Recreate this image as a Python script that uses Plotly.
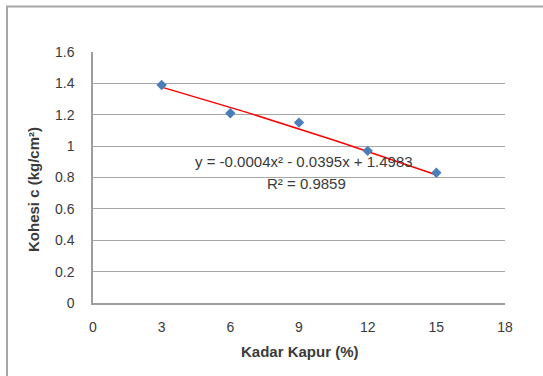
import numpy as np
import plotly.graph_objects as go

# Data
kadar_kapur = [3, 6, 9, 12, 15]
kohesi = [1.39, 1.21, 1.15, 0.97, 0.83]
trend_coef = [-0.0004, -0.0395, 1.4983]  # quadratic trendline shown on chart
x_ticks = [0, 3, 6, 9, 12, 15, 18]
y_ticks = [0, 0.2, 0.4, 0.6, 0.8, 1.0, 1.2, 1.4, 1.6]
eq_text = "y = -0.0004x² - 0.0395x + 1.4983"
r2_text = "R² = 0.9859"
x_title = "Kadar Kapur (%)"
y_title = "Kohesi c (kg/cm²)"

W, H = 543, 376
L, R, T, B = 93, 38, 52, 73
pw, ph = W - L - R, H - T - B

def px_x(p):
    return (p - L) / pw

def px_y(p):
    return (H - B - p) / ph

trend_x = np.linspace(kadar_kapur[0], kadar_kapur[-1], 25)
trend_y = np.polyval(trend_coef, trend_x)

fig = go.Figure()
fig.add_trace(go.Scatter(x=trend_x, y=trend_y, mode="lines",
                         line=dict(color="#ff0000", width=1.5), hoverinfo="skip"))
fig.add_trace(go.Scatter(x=kadar_kapur, y=kohesi, mode="markers",
                         marker=dict(symbol="diamond", size=8, color="#4a7ebb")))

font = "Liberation Sans, Arial, sans-serif"
txt = "#3a3a3a"

def label(text, x, y, size, angle=0):
    return dict(text=text, x=px_x(x), y=px_y(y), xref="paper", yref="paper",
                xanchor="center", yanchor="middle", showarrow=False,
                textangle=angle, font=dict(size=size, color=txt))

fig.update_layout(
    width=W, height=H,
    margin=dict(l=L, r=R, t=T, b=B),
    paper_bgcolor="white", plot_bgcolor="white",
    showlegend=False,
    font=dict(family=font, size=14, color=txt),
    xaxis=dict(range=[0, 18], tickvals=x_ticks, showgrid=False, zeroline=False,
               showline=True, linecolor="#9e9e9e", linewidth=1.5,
               ticks="", ticklabelstandoff=10, tickfont=dict(size=14, color=txt)),
    yaxis=dict(range=[0, 1.6], tickvals=y_ticks, showgrid=True, gridcolor="#a6a6a6",
               gridwidth=1.2, zeroline=False, showline=True, linecolor="#9e9e9e",
               linewidth=1.5, ticks="", ticklabelstandoff=14,
               tickfont=dict(size=14, color=txt)),
    shapes=[dict(type="rect", xref="paper", yref="paper",
                 x0=px_x(7), x1=px_x(560), y0=px_y(400), y1=px_y(6.5),
                 line=dict(color="#a6a6a6", width=2), fillcolor="rgba(0,0,0,0)")],
    annotations=[
        label(eq_text, 304, 161, 15),
        label(r2_text, 306, 183, 15),
        label("<b>" + x_title + "</b>", 300, 351, 15),
        label("<b>" + y_title + "</b>", 33, 190, 15, angle=-90),
    ],
)

fig.write_html("out.html", config={"displayModeBar": False},
               post_script="document.body.style.margin='0';document.body.style.overflow='hidden';")
